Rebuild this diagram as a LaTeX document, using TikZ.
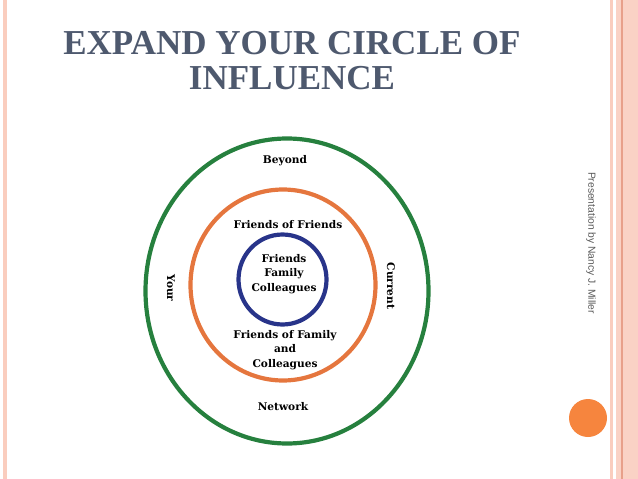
\documentclass[tikz,border=0pt]{standalone}
\usepackage{fontspec}
\setmainfont{Liberation Serif}
\setsansfont{Liberation Sans}
\newfontfamily\ringfont{DejaVu Serif}
\usepackage{tikz}
\usetikzlibrary{shapes.geometric, positioning}
\definecolor{titleslate}{RGB}{78, 89, 110}
\definecolor{ringgreen}{RGB}{38, 128, 62}
\definecolor{ringorange}{RGB}{229, 118, 62}
\definecolor{ringblue}{RGB}{40, 52, 138}
\definecolor{dotorange}{RGB}{246, 133, 62}
\definecolor{stripsalmon}{RGB}{250, 205, 190}
\definecolor{stripdark}{RGB}{232, 160, 138}

\begin{document}
\begin{tikzpicture}[x=1pt, y=-1pt,
          ring/.style={ellipse, draw, line width=4.2pt, inner sep=0pt},
          ringtext/.style={font=\ringfont\bfseries\fontsize{10.6}{14.3}\selectfont, align=center, inner sep=0pt},
          sidetext/.style={ringtext, rotate=-90},
          titletext/.style={font=\rmfamily\bfseries\fontsize{35}{35}\selectfont, text=titleslate, align=center}
        ]
          \useasboundingbox (0,0) rectangle (638,479);
          % page border strips
          \fill[stripsalmon] (3,0) rectangle (7,479);
          \fill[stripsalmon] (610,0) rectangle (613,479);
          \fill[stripsalmon!90!white] (616,0) rectangle (638,479);
          \fill[stripdark] (621,0) rectangle (622.5,479);

          \node[titletext] (title) at (292,61) {EXPAND YOUR CIRCLE OF\\INFLUENCE};

          % the three circles
          \node[ring, draw=ringgreen, minimum width=283pt, minimum height=305pt] (network) at (287,291) {};
          \node[ring, draw=ringorange, minimum width=185pt, minimum height=191pt] (second) at (283,285) {};
          \node[ring, draw=ringblue, minimum width=88pt, minimum height=90pt] (inner) at (282.5,279.5) {};

          \node[ringtext] (beyond) at (285,161) {Beyond};
          \node[ringtext] (fof) at (288,225) {Friends of Friends};
          \node[ringtext] (core) at (284,274) {Friends\\Family\\Colleagues};
          \node[ringtext] (fofam) at (285,350) {Friends of Family\\and\\Colleagues};
          \node[ringtext] (netw) at (283,407) {Network};
          \node[sidetext] (your) at (171,288) {Your};
          \node[sidetext] (current) at (391,286) {Current};

          \node[rotate=-90, font=\sffamily\fontsize{10.3}{12}\selectfont, text=black!65] (credit) at (591,243) {Presentation by Nancy J. Miller};
          \node[circle, fill=dotorange, minimum size=38pt, inner sep=0pt] (dot) at (588,418) {};
        \end{tikzpicture}
\end{document}
